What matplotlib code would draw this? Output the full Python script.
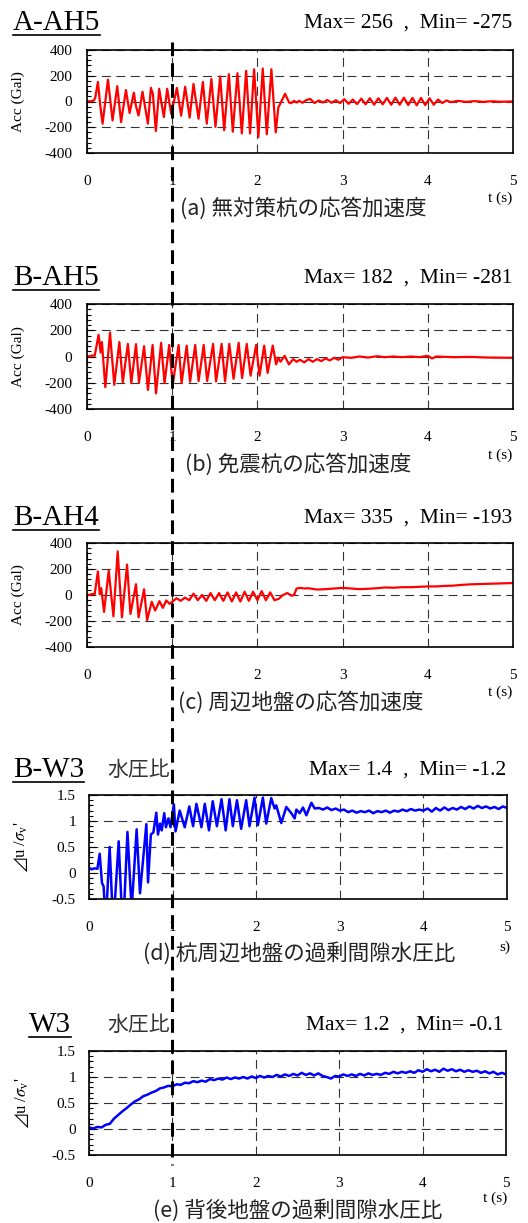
import matplotlib
matplotlib.use("Agg")
import matplotlib.pyplot as plt
import numpy as np
from matplotlib.lines import Line2D
from matplotlib.ticker import MultipleLocator, FuncFormatter

plt.rcParams["font.family"] = ["Liberation Serif", "DejaVu Sans"]
plt.rcParams["mathtext.fontset"] = "stix"
plt.rcParams["axes.unicode_minus"] = False

# ---- data ----
A_T = [0, 0.04, 0.08, 0.097, 0.128, 0.156, 0.183, 0.246, 0.30, 0.355,
       0.40, 0.457, 0.50, 0.55, 0.574, 0.605, 0.652, 0.676, 0.715, 0.75,
       0.774, 0.808, 0.847, 0.902, 0.941, 0.988, 1.055, 1.105, 1.152, 1.205,
       1.25, 1.309, 1.36, 1.406, 1.46, 1.508, 1.563, 1.61, 1.665, 1.711,
       1.766, 1.817, 1.868, 1.914, 1.961, 2.012, 2.063, 2.11, 2.164, 2.215,
       2.246, 2.266, 2.325, 2.372, 2.395, 2.43, 2.46, 2.49, 2.53, 2.57,
       2.62, 2.67, 2.72, 2.77, 2.82, 2.87, 2.92, 2.97, 3.02, 3.07,
       3.12, 3.17, 3.22, 3.27, 3.32, 3.37, 3.42, 3.47, 3.52, 3.57,
       3.62, 3.67, 3.72, 3.77, 3.82, 3.87, 3.92, 3.97, 4.02, 4.07,
       4.12, 4.17, 4.22, 4.27, 4.35, 4.45, 4.55, 4.65, 4.75, 4.85, 5.0]
A_V = [5, 0, 8, 30, 152, -33, -172, 170, -147, 119,
       -160, 89, -89, 68, -33, -109, 76, -20, -172, 106,
       56, -230, 99, -121, 99, -96, 105, -110, 115, -125,
       137, -134, 152, -172, 175, -197, 195, -223, 212, -235,
       220, -248, 238, -248, 250, -275, 256, -255, 250, -240,
       -45, -20, 60, -8, -13, 5, -8, 5, -10, 10,
       20, -12, 8, -8, 12, -10, 10, -12, 18, -18,
       15, -20, 22, -22, 25, -25, 25, -22, 28, -25,
       30, -25, 30, -28, 28, -30, 28, -28, 25, -25,
       15, -12, 8, -5, 5, -3, 3, -3, 2, -2, 0]

B_T = [0, 0.03, 0.06, 0.09, 0.136, 0.16, 0.175, 0.215, 0.27, 0.32,
       0.38, 0.42, 0.48, 0.52, 0.575, 0.61, 0.67, 0.715, 0.77, 0.81,
       0.87, 0.91, 0.965, 1.005, 1.075, 1.11, 1.17, 1.21, 1.27, 1.31,
       1.37, 1.41, 1.48, 1.515, 1.58, 1.62, 1.67, 1.72, 1.78, 1.82,
       1.875, 1.92, 1.985, 2.025, 2.08, 2.12, 2.18, 2.22, 2.245, 2.27,
       2.32, 2.37, 2.42, 2.46, 2.5, 2.55, 2.6, 2.65, 2.7, 2.75,
       2.8, 2.85, 2.9, 2.95, 3.0, 3.1, 3.2, 3.3, 3.4, 3.5,
       3.6, 3.7, 3.8, 3.9, 4.0, 4.05, 4.1, 4.3, 4.5, 4.7, 5.0]
B_V = [5, 0, 8, 5, 166, 30, 110, -234, 182, -216,
       110, -198, 96, -203, 94, -198, 78, -255, 88, -281,
       104, -203, 88, -220, 88, -203, 83, -192, 88, -187,
       88, -187, 96, -190, 96, -190, 96, -170, 104, -164,
       96, -146, 88, -146, 83, -125, 83, -60, -8, -40,
       5, -60, -20, -40, -25, -45, -20, -40, -20, -35,
       -15, -30, -10, -25, -5, -10, 0, -8, 2, -5,
       0, -5, 0, -5, 5, -15, 0, -5, -3, -8, -10]

C_T = [0, 0.03, 0.06, 0.09, 0.128, 0.15, 0.167, 0.2, 0.255, 0.31,
       0.36, 0.41, 0.47, 0.51, 0.575, 0.605, 0.67, 0.705, 0.76, 0.8,
       0.85, 0.89, 0.93, 0.97, 1.01, 1.05, 1.1, 1.15, 1.2, 1.25,
       1.3, 1.35, 1.4, 1.45, 1.5, 1.55, 1.6, 1.65, 1.7, 1.75,
       1.8, 1.85, 1.9, 1.95, 2.0, 2.05, 2.1, 2.15, 2.2, 2.25,
       2.3, 2.35, 2.4, 2.43, 2.46, 2.5, 2.55, 2.6, 2.7, 2.8,
       2.9, 3.0, 3.1, 3.2, 3.3, 3.4, 3.5, 3.6, 3.7, 3.8,
       3.9, 4.0, 4.1, 4.2, 4.3, 4.4, 4.5, 4.6, 4.7, 4.8,
       4.9, 5.0]
C_V = [5, 0, 8, 5, 182, 5, 52, -130, 187, -164,
       335, -172, 234, -146, 83, -172, 44, -193, -52, -120,
       -47, -99, -42, -68, -47, -25, -45, -20, -40, 10,
       -40, 0, -45, 15, -40, 15, -45, 20, -50, 20,
       -50, 25, -45, 25, -40, 30, -40, 20, -40, -30,
       0, 15, -5, 0, 50, 55, 50, 52, 42, 45,
       50, 55, 50, 45, 48, 52, 58, 56, 60, 60,
       63, 66, 66, 70, 72, 78, 82, 84, 86, 88,
       90, 92]

D_T = [0, 0.03, 0.07, 0.1, 0.128, 0.155, 0.175, 0.2, 0.247, 0.29,
       0.355, 0.405, 0.46, 0.51, 0.57, 0.61, 0.686, 0.706, 0.74, 0.77,
       0.805, 0.825, 0.85, 0.87, 0.9, 0.92, 0.95, 0.975, 1.015, 1.035,
       1.085, 1.145, 1.2, 1.245, 1.285, 1.345, 1.385, 1.435, 1.48, 1.53,
       1.585, 1.635, 1.68, 1.72, 1.77, 1.82, 1.88, 1.92, 1.98, 2.02,
       2.08, 2.12, 2.18, 2.22, 2.24, 2.3, 2.36, 2.42, 2.46, 2.48,
       2.52, 2.56, 2.6, 2.66, 2.7]
D_V = [0.1, 0.07, 0.09, 0.08, 0.37, -0.19, -0.26, -1.0, 0.5, -1.05,
       0.61, -1.2, 0.79, -0.7, 0.84, -0.39, 0.94, -0.18, 0.74, 0.78,
       1.16, 0.74, 0.95, 0.82, 1.15, 0.88, 1.05, 0.88, 1.32, 0.8,
       1.2, 0.88, 1.28, 0.9, 1.33, 0.88, 1.33, 0.82, 1.38, 0.9,
       1.42, 0.82, 1.42, 0.9, 1.4, 0.85, 1.4, 0.9, 1.45, 0.92,
       1.45, 0.95, 1.44, 1.24, 1.3, 0.96, 1.27, 1.15, 1.05, 1.22,
       1.15, 1.26, 1.11, 1.35, 1.24]
# after 2.75 s, sampled every 0.05 s
D_TAIL = [1.25, 1.22, 1.26, 1.21, 1.24, 1.2, 1.22, 1.17, 1.2, 1.16,
          1.19, 1.17, 1.2, 1.15, 1.19, 1.17, 1.2, 1.16, 1.2, 1.18,
          1.22, 1.19, 1.23, 1.2, 1.22, 1.2, 1.24, 1.18, 1.25, 1.2,
          1.26, 1.21, 1.25, 1.22, 1.27, 1.23, 1.28, 1.24, 1.29, 1.25,
          1.28, 1.24, 1.27, 1.23, 1.28, 1.25]

# sampled every 0.05 s from 0 to 5
E_V = [0.03, 0.01, 0.04, 0.03, 0.08, 0.10, 0.20, 0.27, 0.34, 0.40,
       0.47, 0.53, 0.57, 0.63, 0.66, 0.70, 0.73, 0.78, 0.80, 0.83,
       0.82, 0.86, 0.85, 0.89, 0.88, 0.92, 0.90, 0.93, 0.91, 0.96,
       0.94, 0.97, 0.95, 0.99, 0.96, 0.99, 0.97, 1.00, 0.97, 1.01,
       0.98, 1.02, 0.99, 1.02, 1.00, 1.04, 1.01, 1.05, 1.02, 1.06,
       1.03, 1.08, 1.04, 1.07, 1.03, 1.07, 1.02, 1.00, 0.97, 1.02,
       1.01, 1.05, 1.02, 1.05, 1.02, 1.06, 1.03, 1.07, 1.04, 1.06,
       1.04, 1.08, 1.06, 1.10, 1.07, 1.10, 1.08, 1.11, 1.08, 1.13,
       1.10, 1.15, 1.11, 1.14, 1.10, 1.16, 1.12, 1.15, 1.11, 1.14,
       1.10, 1.13, 1.10, 1.12, 1.08, 1.11, 1.07, 1.10, 1.05, 1.08,
       1.05]

NAMES = ["A-AH5", "B-AH5", "B-AH4", "B-W3", "W3"]
MAXMIN = ["Max= 256  ,  Min= -275", "Max= 182  ,  Min= -281",
          "Max= 335  ,  Min= -193", "Max= 1.4  ,  Min= -1.2",
          "Max= 1.2  ,  Min= -0.1"]
CAPTIONS = ["(a) 無対策杭の応答加速度", "(b) 免震杭の応答加速度",
            "(c) 周辺地盤の応答加速度", "(d) 杭周辺地盤の過剰間隙水圧比",
            "(e) 背後地盤の過剰間隙水圧比"]

W, H = 528, 1223
fig = plt.figure(figsize=(W / 100, H / 100), dpi=100)


def fx(x):
    return x / W


def fy(y):
    return 1 - y / H


def add_ax(x0, y0, x1, y1):
    return fig.add_axes([fx(x0), fy(y1), (x1 - x0) / W, (y1 - y0) / H])


GRID = dict(color="#333333", lw=0.8, ls=(0, (8, 5)))
fmt = FuncFormatter(lambda v, p: "%g" % v)


def style(ax, acc):
    ax.set_xlim(0, 5)
    ax.xaxis.set_major_locator(MultipleLocator(1))
    ax.xaxis.set_major_formatter(fmt)
    if acc:
        ax.set_ylim(-400, 400)
        ax.yaxis.set_major_locator(MultipleLocator(200))
        ax.yaxis.set_minor_locator(MultipleLocator(40))
        ax.set_ylabel("Acc (Gal)", fontsize=11)
        ax.yaxis.set_label_coords(-0.146, 0.5)
        ypad = 10.5
    else:
        ax.set_ylim(-0.5, 1.5)
        ax.yaxis.set_major_locator(MultipleLocator(0.5))
        ax.yaxis.set_minor_locator(MultipleLocator(0.1))
        ax.set_ylabel("$⊿$u /$\\sigma_\\mathregular{v}$'", fontsize=12)
        ax.yaxis.set_label_coords(-0.14, 0.5)
        ypad = 9.5
    ax.yaxis.set_major_formatter(fmt)
    ax.tick_params(axis="x", length=0, pad=16, labelsize=11)
    ax.tick_params(axis="y", which="major", direction="in", length=5,
                   width=0.8, pad=ypad, labelsize=11)
    ax.tick_params(axis="y", which="minor", direction="in", length=3,
                   width=0.8)
    ax.grid(True, which="major", **GRID)
    for s in ax.spines.values():
        s.set_linewidth(1.2)


boxes = [(87, 50, 513, 153), (87, 304, 513, 409), (87, 543, 513, 647),
         (89, 795, 507, 899), (89, 1051, 506, 1155)]
series = [(A_T, A_V, "#ff0000"), (B_T, B_V, "#ff0000"), (C_T, C_V, "#ff0000"),
          (D_T + list(np.round(np.arange(2.75, 5.001, 0.05), 2)),
           D_V + D_TAIL, "#0000ff"),
          (list(np.round(np.arange(0, 5.001, 0.05), 2)), E_V, "#0000ff")]

axes = []
for i, (box, (t, v, c)) in enumerate(zip(boxes, series)):
    ax = add_ax(*box)
    style(ax, i < 3)
    ax.plot(t, v, color=c, lw=1.6 if i < 3 else 1.8, solid_joinstyle="round")
    axes.append(ax)

# headers
title_pos = [(13, 23), (13, 278), (13, 518), (13, 770), (29, 1025)]
maxmin_x = [512, 512, 512, 506, 503]
titles = []
for i, ((x, y), name) in enumerate(zip(title_pos, NAMES)):
    titles.append(fig.text(fx(x), fy(y), name, fontsize=21, ha="left",
                           va="center"))
    fig.text(fx(maxmin_x[i]), fy(y), MAXMIN[i], fontsize=15.5, ha="right",
             va="center")
for y in (770, 1025):
    fig.text(fx(107), fy(y), "水圧比", fontsize=15, ha="left", va="center",
             family=["Noto Sans CJK JP"], color="#333333")

# captions
cap_pos = [(180, 208), (185, 464), (178, 702), (143, 953), (153, 1210)]
for (x, y), cap in zip(cap_pos, CAPTIONS):
    fig.text(fx(x), fy(y), cap, fontsize=15.5, ha="left", va="center",
             family=["Noto Sans CJK JP"], color="#222222")

# t (s) labels
for x, y, s in [(500, 198, "t (s)"), (500, 455, "t (s)"), (500, 692, "t (s)"),
                (505, 947, "s)"), (495, 1198, "t (s)")]:
    fig.text(fx(x), fy(y), s, fontsize=11, ha="center", va="center")

# underline titles
fig.canvas.draw()
r = fig.canvas.get_renderer()
inv = fig.transFigure.inverted()
for t in titles:
    bb = t.get_window_extent(r)
    (x0, y0), (x1, _) = inv.transform([(bb.x0, bb.y0), (bb.x1, bb.y1)])
    fig.add_artist(Line2D([x0, x1], [y0 + 0.0005, y0 + 0.0005],
                          transform=fig.transFigure, color="black", lw=1.2))

# dashed marker at t = 1 s across all panels
xm = inv.transform(axes[0].transData.transform((1, 0)))[0]
fig.add_artist(Line2D([xm, xm], [fy(42), fy(1165)], transform=fig.transFigure,
                      color="black", lw=2.2, ls=(0, (4.5, 2.3)), zorder=10))

fig.savefig("out.png", dpi=100)
